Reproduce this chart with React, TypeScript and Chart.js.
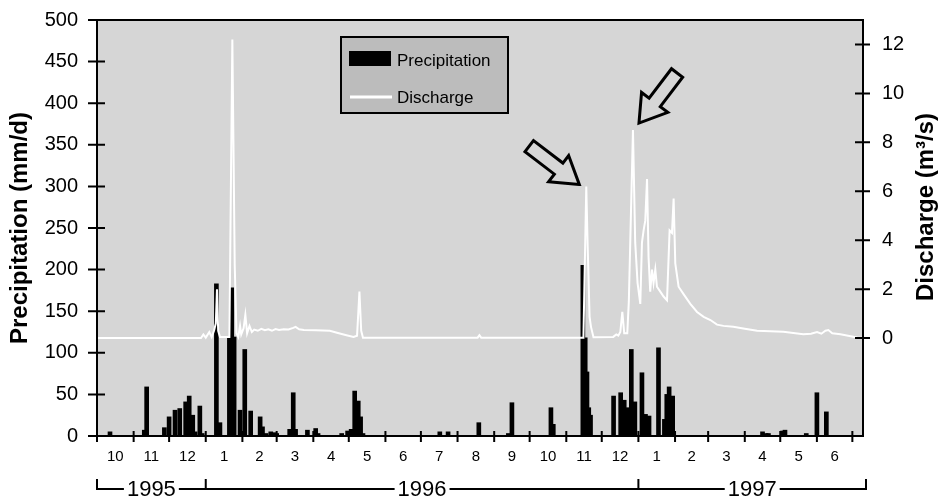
import React, { useEffect, useRef } from "react";
import { Chart, registerables } from "chart.js";

Chart.register(...registerables);

// Day 0 = 1 October 1995
const monthStarts = [0, 31, 61, 92, 123, 152, 183, 213, 244, 274, 305, 336, 366, 397, 427, 458, 489, 517, 548, 578, 609, 639];
const monthLabels = ["10", "11", "12", "1", "2", "3", "4", "5", "6", "7", "8", "9", "10", "11", "12", "1", "2", "3", "4", "5", "6"];
const yearLabels = ["1995", "1996", "1997"];
const yearBounds = [0, 92, 458, 648];
const dayMax = 648;

const dischargeTicks = [0, 2, 4, 6, 8, 10, 12];

// Precipitation (mm/d)
const precipDays = [
  11, 40, 42, 57, 61, 66, 70, 75, 78, 81, 83, 87, 89,
  101, 104, 112, 114, 116, 121, 125, 130, 138, 140, 143, 147, 150, 152, 163, 166, 168, 178, 185, 187,
  207, 212, 215, 218, 221, 223, 225,
  290, 297, 323, 348, 351, 384, 386,
  411, 413, 414.5, 416, 417.5,
  437, 443, 446, 449, 452, 455,
  461, 464, 467, 475, 480, 482, 484, 487,
  563, 566, 568, 580, 582, 600, 609, 617,
];
const precipValues = [
  5, 7, 59, 10, 23, 31, 33, 41, 48, 25, 5, 36, 3,
  183, 16, 119, 178, 119, 31, 104, 30, 23, 11, 3, 5, 4, 3, 8, 52, 8, 7, 9, 3,
  3, 6, 8, 54, 42, 23, 3,
  5, 5, 16, 3, 40, 34, 14,
  205, 118, 77, 34, 25,
  48, 52, 43, 34, 104, 41,
  76, 26, 24, 106, 20, 50, 59, 48,
  5, 3, 3, 6, 7, 3, 52, 29,
];

// Discharge (m3/s)
const dischargeDays = [
  0, 88, 90, 92, 95, 97, 99, 100.5, 101.5, 102.5, 104, 112, 114.5, 116.5, 118, 119.5, 121, 122, 124, 125.5,
  127, 129, 131, 133, 136, 139, 142, 145, 148, 151, 154, 158, 162, 166, 168, 171, 175, 185, 197, 203,
  211, 217, 220, 222, 223.5, 225, 322, 323.5, 325, 411.5, 413.9, 415, 416.7, 417.9, 420, 436.7, 439.3, 441,
  442.7, 444.4, 446, 448.6, 449.9, 451.1, 453.4, 455.3, 457.3, 459.6, 461, 462.4, 463.8, 465.3, 466.6, 468,
  469.5, 470.8, 472.3, 473.7, 476.5, 479.3, 482.2, 484.4, 486.4, 487.8, 489.2, 492, 496.2, 501.9, 507.6,
  513.2, 518.9, 524.5, 530, 538.3, 548, 558.4, 580.6, 597.5, 604, 609.1, 612.8, 616.2, 618.7, 622, 628.9, 643, 648,
];
const dischargeValues = [
  0, 0, 0.15, 0.02, 0.25, 0.05, 0.3, 0.6, 2.0, 0.3, 0.05, 0.05, 12.2, 3, 0.2, 0.05, 0.5, 0.15, 0.4, 0.95,
  0.2, 0.5, 0.25, 0.35, 0.3, 0.38, 0.32, 0.36, 0.3, 0.37, 0.33, 0.36, 0.35, 0.42, 0.46, 0.36, 0.33, 0.32, 0.3, 0.22,
  0.12, 0.05, 0.1, 1.9, 0.3, 0.02, 0.02, 0.12, 0.02, 0.02, 6.2, 3.9, 0.87, 0.46, 0.04, 0.05, 0.15, 0.1,
  0.25, 1.07, 0.2, 0.2, 1.5, 3.9, 8.5, 3.9, 2.25, 1.4, 3.9, 4.4, 4.8, 6.5, 3.3, 1.9,
  2.8, 2.25, 2.8, 2.1, 1.9, 1.7, 1.55, 4.4, 4.3, 5.7, 3.05, 2.1, 1.8, 1.4, 1.07,
  0.87, 0.74, 0.55, 0.5, 0.46, 0.38, 0.3, 0.26, 0.16, 0.18, 0.25, 0.18, 0.3, 0.33, 0.2, 0.16, 0.03, 0.02,
];

// Arrow annotations pointing at the two discharge peaks
const arrowNotes = [
  { day: 413.9, q: 6.2, dx: -7, dy: -2, ux: 51, uy: 39 },
  { day: 453.4, q: 8.5, dx: 6, dy: -7, ux: -38, uy: 50 },
];

const FONT = '"Liberation Sans", Arial, Helvetica, sans-serif';
const PLOT_BG = "#d6d6d6";
const LEGEND_BG = "#bcbcbc";

function drawArrow(ctx: CanvasRenderingContext2D, tx: number, ty: number, ux: number, uy: number) {
  const len = 63, shaftW = 14, headW = 33, headL = 26;
  const n = Math.hypot(ux, uy);
  const dx = ux / n, dy = uy / n;
  const px = -dy, py = dx;
  const pts = [
    [0, 0],
    [-headL, headW / 2],
    [-headL, shaftW / 2],
    [-len, shaftW / 2],
    [-len, -shaftW / 2],
    [-headL, -shaftW / 2],
    [-headL, -headW / 2],
  ];
  ctx.beginPath();
  pts.forEach(([a, b], i) => {
    const X = tx + dx * a + px * b;
    const Y = ty + dy * a + py * b;
    if (i) ctx.lineTo(X, Y);
    else ctx.moveTo(X, Y);
  });
  ctx.closePath();
  ctx.fillStyle = PLOT_BG;
  ctx.fill();
  ctx.lineWidth = 3;
  ctx.lineJoin = "miter";
  ctx.strokeStyle = "#000";
  ctx.stroke();
}

const decorPlugin = {
  id: "decor",
  beforeDraw(chart: any) {
    const { ctx, chartArea: ca } = chart;
    ctx.save();
    ctx.fillStyle = PLOT_BG;
    ctx.fillRect(ca.left, ca.top, ca.right - ca.left, ca.bottom - ca.top);
    ctx.restore();
  },
  afterDraw(chart: any) {
    const { ctx, chartArea: ca, scales } = chart;
    const xs = scales.x, ys = scales.y, ys2 = scales.y2;
    ctx.save();
    // frame
    ctx.strokeStyle = "#000";
    ctx.lineWidth = 2;
    ctx.strokeRect(ca.left, ca.top, ca.right - ca.left, ca.bottom - ca.top);
    // crossing ticks
    ctx.beginPath();
    for (const t of ys.ticks) {
      const py = ys.getPixelForValue(t.value);
      ctx.moveTo(ca.left - 9, py);
      ctx.lineTo(ca.left + 8, py);
    }
    for (const t of ys2.ticks) {
      const py = ys2.getPixelForValue(t.value);
      ctx.moveTo(ca.right - 8, py);
      ctx.lineTo(ca.right + 7, py);
    }
    for (const t of xs.ticks) {
      const px = xs.getPixelForValue(t.value);
      ctx.moveTo(px, ca.bottom - 5);
      ctx.lineTo(px, ca.bottom + 6);
    }
    ctx.stroke();

    // month labels
    ctx.fillStyle = "#000";
    ctx.font = `15px ${FONT}`;
    ctx.textAlign = "center";
    ctx.textBaseline = "middle";
    for (let i = 0; i < monthLabels.length; i++) {
      const a = xs.getPixelForValue(monthStarts[i]);
      const b = xs.getPixelForValue(monthStarts[i + 1]);
      ctx.fillText(monthLabels[i], (a + b) / 2, ca.bottom + 21);
    }

    // year brackets
    const lineY = ca.bottom + 53;
    ctx.font = `22px ${FONT}`;
    ctx.lineWidth = 2;
    ctx.beginPath();
    for (let i = 0; i < yearLabels.length; i++) {
      const x0 = xs.getPixelForValue(yearBounds[i]);
      const x1 = i === yearLabels.length - 1 ? ca.right + 3 : xs.getPixelForValue(yearBounds[i + 1]);
      const cx = (x0 + x1) / 2;
      const w = ctx.measureText(yearLabels[i]).width;
      ctx.moveTo(x0, lineY);
      ctx.lineTo(cx - w / 2 - 3, lineY);
      ctx.moveTo(cx + w / 2 + 3, lineY);
      ctx.lineTo(x1, lineY);
      ctx.fillText(yearLabels[i], cx, lineY + 1);
    }
    const markXs = [xs.getPixelForValue(yearBounds[0]), xs.getPixelForValue(yearBounds[1]), xs.getPixelForValue(yearBounds[2]), ca.right + 3];
    for (const mx of markXs) {
      ctx.moveTo(mx, lineY + 1);
      ctx.lineTo(mx, lineY - 10);
    }
    ctx.stroke();

    // right axis title (reads bottom to top)
    ctx.save();
    ctx.translate(926, 207);
    ctx.rotate(-Math.PI / 2);
    ctx.font = `bold 24px ${FONT}`;
    ctx.textAlign = "center";
    ctx.textBaseline = "middle";
    ctx.fillText("Discharge (m³/s)", 0, 0);
    ctx.restore();

    // legend
    const lx = ca.left + 244, ly = ca.top + 17, lw = 167, lh = 76;
    ctx.fillStyle = LEGEND_BG;
    ctx.fillRect(lx, ly, lw, lh);
    ctx.lineWidth = 2;
    ctx.strokeStyle = "#000";
    ctx.strokeRect(lx, ly, lw, lh);
    ctx.fillStyle = "#000";
    ctx.fillRect(lx + 8, ly + 14, 42, 15);
    ctx.strokeStyle = "#fff";
    ctx.lineWidth = 3;
    ctx.beginPath();
    ctx.moveTo(lx + 9, ly + 60);
    ctx.lineTo(lx + 51, ly + 60);
    ctx.stroke();
    ctx.fillStyle = "#000";
    ctx.font = `17px ${FONT}`;
    ctx.textAlign = "left";
    ctx.textBaseline = "middle";
    ctx.fillText(chart.data.datasets[1].label, lx + 56, ly + 24);
    ctx.fillText(chart.data.datasets[0].label, lx + 56, ly + 61);

    // arrows
    for (const a of arrowNotes) {
      const tx = xs.getPixelForValue(a.day) + a.dx;
      const ty = ys2.getPixelForValue(a.q) + a.dy;
      drawArrow(ctx, tx, ty, a.ux, a.uy);
    }
    ctx.restore();
  },
};

export default function App() {
  const ref = useRef<HTMLCanvasElement>(null);
  useEffect(() => {
    document.body.style.margin = "0";
    const canvas = ref.current!;
    const chart = new Chart(canvas, {
      type: "bar",
      data: {
        datasets: [
          {
            type: "line",
            label: "Discharge",
            data: dischargeDays.map((d, i) => ({ x: d, y: dischargeValues[i] })),
            borderColor: "#ffffff",
            borderWidth: 2,
            pointRadius: 0,
            tension: 0,
            fill: false,
            yAxisID: "y2",
            order: 0,
          } as any,
          {
            type: "bar",
            label: "Precipitation",
            data: precipDays.map((d, i) => ({ x: d, y: precipValues[i] })),
            backgroundColor: "#000000",
            borderWidth: 0,
            barThickness: 4,
            yAxisID: "y",
            order: 1,
          } as any,
        ],
      },
      options: {
        responsive: false,
        animation: false,
        events: [],
        layout: { padding: { top: 20, left: 0, right: 0, bottom: 0 } },
        plugins: { legend: { display: false }, tooltip: { enabled: false } },
        scales: {
          x: {
            type: "linear",
            min: 0,
            max: dayMax,
            offset: false,
            grid: { display: false, drawTicks: false },
            border: { display: false },
            ticks: { display: false },
            afterBuildTicks: (s: any) => {
              s.ticks = monthStarts.map((v) => ({ value: v }));
            },
            afterFit: (s: any) => {
              s.height = 64;
            },
          },
          y: {
            position: "left",
            min: 0,
            max: 500,
            grid: { display: false, drawTicks: false },
            border: { display: false },
            ticks: { stepSize: 50, color: "#000", padding: 19, font: { family: FONT, size: 20 } },
            title: {
              display: true,
              text: "Precipitation (mm/d)",
              color: "#000",
              font: { family: FONT, size: 24, weight: "bold", lineHeight: 1.2 },
              padding: { top: 6, bottom: 0 },
            },
            afterFit: (s: any) => {
              s.width = 97;
              s.paddingTop = 0;
              s.paddingBottom = 0;
            },
          },
          y2: {
            position: "right",
            min: -4,
            max: 13,
            grid: { display: false, drawTicks: false },
            border: { display: false },
            ticks: { color: "#000", padding: 19, font: { family: FONT, size: 20 } },
            afterBuildTicks: (s: any) => {
              s.ticks = dischargeTicks.map((v) => ({ value: v }));
            },
            afterFit: (s: any) => {
              s.width = 77;
              s.paddingTop = 0;
              s.paddingBottom = 0;
            },
          },
        },
      } as any,
      plugins: [decorPlugin],
    });
    return () => chart.destroy();
  }, []);
  return (
    <div style={{ width: 940, height: 500 }}>
      <canvas ref={ref} width={940} height={500} style={{ display: "block" }} />
    </div>
  );
}
